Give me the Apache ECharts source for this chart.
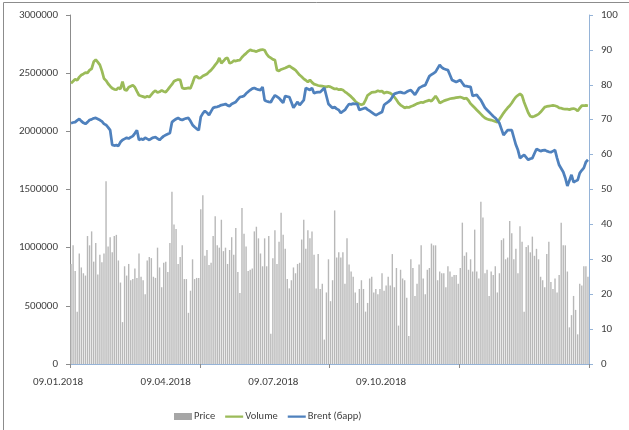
<!DOCTYPE html>
<html>
<head>
<meta charset="utf-8">
<script src="https://cdn.jsdelivr.net/npm/echarts@6/dist/echarts.min.js"></script>
<style>
  html, body { margin: 0; padding: 0; background: #fff; }
  #chart { width: 629px; height: 430px; }
</style>
</head>
<body>
<div id="chart"></div>
<script>
// Axis tick labels under the date axis
var tickLabels = ['09.01.2018', '09.04.2018', '09.07.2018', '09.10.2018'];

// Daily bars (left axis)
var price = [
  860000,1020000,800000,450000,950000,830000,780000,760000,1100000,1020000,
  1140000,880000,1040000,770000,940000,875000,950000,1570000,1010000,1090000,
  960000,1100000,1110000,890000,700000,360000,840000,760000,860000,720000,
  730000,820000,740000,950000,750000,720000,600000,890000,920000,910000,
  750000,740000,1000000,830000,660000,870000,880000,790000,1040000,1480000,
  1200000,1160000,860000,920000,1020000,730000,730000,440000,630000,900000,
  730000,740000,740000,
  1330000,1450000,930000,980000,850000,870000,1100000,1270000,1020000,1000000,
  1240000,970000,1000000,860000,980000,1090000,940000,1170000,790000,610000,
  1340000,1120000,1010000,800000,810000,820000,1140000,1180000,1080000,950000,
  840000,1080000,840000,1100000,260000,910000,1150000,860000,1050000,1300000,
  1110000,990000,730000,650000,720000,830000,780000,860000,870000,1070000,
  1240000,990000,1150000,1080000,1140000,940000,650000,
  945000,645000,690000,210000,615000,900000,540000,720000,1320000,915000,
  960000,915000,960000,690000,1080000,855000,795000,750000,615000,525000,
  645000,720000,645000,450000,525000,735000,750000,615000,645000,600000,
  645000,780000,630000,675000,750000,675000,945000,660000,825000,330000,
  810000,735000,720000,570000,240000,900000,825000,585000,690000,855000,
  1020000,735000,600000,810000,825000,1035000,1020000,1020000,720000,795000,
  780000,780000,660000,840000,795000,750000,765000,765000,690000,
  825000,1215000,930000,960000,810000,900000,795000,1155000,795000,735000,
  1395000,1260000,780000,810000,585000,795000,765000,840000,615000,780000,
  1065000,1080000,900000,915000,1230000,1125000,900000,990000,780000,1185000,
  1050000,450000,1005000,1020000,960000,1095000,930000,990000,900000,750000,
  720000,660000,945000,1050000,705000,645000,735000,615000,765000,1215000,
  1020000,1020000,795000,315000,420000,585000,465000,255000,690000,675000,
  840000,840000,750000
];

// Green line (right axis)
var volume = [
  80.4,81.0,81.6,81.3,82.2,82.8,83.1,83.5,83.4,84.2,
  84.6,86.6,87.2,86.5,85.7,84.0,81.8,81.2,80.3,79.6,
  79.0,78.7,78.6,79.2,78.8,80.9,78.6,78.4,79.3,79.6,
  79.9,79.3,78.1,77.0,76.8,76.6,76.4,76.7,76.5,77.2,
  77.9,78.3,77.8,78.0,78.4,78.1,77.9,78.6,79.4,80.1,
  81.0,81.3,81.5,81.4,79.1,78.9,79.0,79.1,79.0,80.5,
  82.2,82.4,81.9,82.0,82.5,82.8,83.1,83.7,84.2,84.9,
  85.7,86.4,87.7,86.2,86.8,87.5,87.7,86.2,86.4,86.9,
  86.8,87.0,87.1,87.9,88.5,89.0,89.6,90.0,89.8,89.7,
  89.5,89.8,90.0,90.1,89.9,88.8,88.1,87.7,87.3,87.1,
  84.2,84.0,84.4,84.6,84.8,85.1,85.4,85.0,84.6,84.2,
  83.5,82.8,82.3,81.7,81.3,80.8,81.4,80.7,80.2,80.0,
  79.8,79.7,79.6,79.5,79.4,79.6,79.4,79.1,78.8,78.9,
  78.6,78.7,78.5,78.0,77.6,77.1,76.6,76.0,75.3,74.8,
  74.5,74.3,74.5,75.6,77.0,77.4,77.8,77.9,78.0,78.3,
  78.1,78.2,77.6,77.9,77.8,77.6,77.2,76.5,75.7,74.8,
  74.2,73.8,73.4,73.6,73.5,73.8,74.0,74.3,74.6,74.8,
  75.0,74.9,75.2,75.4,75.6,75.3,76.0,76.8,75.9,74.8,
  75.1,75.4,75.6,75.8,76.0,76.1,76.2,76.3,76.4,76.5,
  76.3,76.0,76.2,75.5,74.6,74.0,73.4,72.8,72.2,71.6,
  71.0,70.5,70.2,70.0,69.9,69.7,69.5,69.3,70.1,71.0,
  71.9,72.7,73.4,74.0,74.8,75.7,76.5,77.0,77.4,76.9,
  75.0,73.5,72.0,71.0,70.8,71.0,71.3,71.6,72.2,72.9,
  73.6,73.8,73.9,74.0,74.1,74.0,73.8,73.4,73.3,73.1,
  73.0,73.0,72.9,73.1,73.2,73.0,72.5,73.3,74.0,74.0,
  74.1,74.0
];

// Blue line (right axis)
var brent = [
  69.0,69.2,69.3,69.8,70.2,69.6,69.1,68.8,69.3,69.9,
  70.1,70.4,70.5,70.2,69.9,69.5,68.8,68.5,67.8,67.0,
  62.8,62.6,62.7,62.5,63.6,64.2,64.5,64.8,64.6,65.0,
  65.3,66.1,67.0,64.2,64.5,64.3,64.8,64.5,64.2,64.6,
  64.9,65.0,64.6,64.2,64.8,65.3,65.6,65.9,66.2,69.3,
  69.8,70.2,70.5,70.1,69.9,70.2,70.4,70.5,69.6,68.5,
  67.9,67.4,67.0,70.8,71.8,72.5,72.0,71.3,72.4,73.4,
  73.6,73.7,73.9,74.2,74.3,74.5,74.1,73.9,74.5,74.8,
  75.1,75.8,76.5,76.6,76.8,77.5,78.0,78.5,78.9,79.1,
  78.8,78.6,78.5,79.4,75.6,75.3,75.1,75.0,76.1,77.0,
  76.6,76.2,75.5,74.8,76.8,76.6,76.5,75.0,73.4,74.3,
  75.1,74.2,74.9,75.6,79.1,78.8,78.5,79.1,77.6,77.8,
  77.9,77.9,78.5,79.1,76.8,74.5,73.9,73.4,73.6,73.1,
  72.8,71.9,72.4,72.8,73.7,74.5,74.4,74.6,74.5,74.5,
  72.8,73.0,73.2,73.4,72.9,72.5,72.1,71.7,71.3,71.6,
  71.9,72.2,74.2,74.7,75.1,75.6,76.5,77.4,77.6,77.8,
  77.9,77.7,77.6,78.0,78.3,78.5,77.8,77.1,78.1,79.1,
  79.4,79.7,79.9,81.2,82.5,82.9,83.3,83.7,84.7,85.7,
  85.0,84.6,84.4,84.2,82.8,81.4,81.1,80.8,81.1,81.4,
  80.5,79.7,79.6,79.5,79.4,76.8,77.0,77.1,76.3,75.6,
  74.5,73.4,72.8,72.2,71.6,71.0,70.5,69.8,69.0,67.3,
  65.6,66.3,67.0,67.0,67.0,64.9,62.8,61.3,59.0,59.5,
  59.9,59.2,58.5,58.8,59.0,60.3,61.6,61.3,61.0,61.2,
  61.3,61.0,60.8,60.7,61.0,61.3,59.0,57.0,56.0,55.0,
  53.3,51.0,52.6,54.2,52.1,52.4,52.7,54.7,55.5,56.2,
  57.9,58.5
];

// Trading-day categories (weekdays from 09.01.2018)
var days = [];
(function () {
  var d = new Date(2018, 0, 9);
  while (days.length < price.length) {
    var wd = d.getDay();
    if (wd !== 0 && wd !== 6) {
      var dd = ('0' + d.getDate()).slice(-2);
      var mm = ('0' + (d.getMonth() + 1)).slice(-2);
      days.push(dd + '.' + mm + '.' + d.getFullYear());
    }
    d.setDate(d.getDate() + 1);
  }
})();

var FONT = "Carlito, 'Liberation Sans Narrow', 'Liberation Sans', Arial, sans-serif";
var TXT = '#404040';
// Thin horizontal stroke used as the legend key for the lines
var LINE_KEY = 'path://M0,0h0.01v0.01h-0.01z M17.99,6.99h0.01v0.01h-0.01z M0,2.4h18v2.4h-18z';

var chart = echarts.init(document.getElementById('chart'), null, { renderer: 'canvas' });

chart.setOption({
  animation: false,
  backgroundColor: '#ffffff',
  textStyle: { fontFamily: FONT },
  graphic: [{
    type: 'rect',
    shape: { x: 3.5, y: 2.5, width: 700, height: 500 },
    style: { fill: 'none', stroke: '#8c8c8c', lineWidth: 1 },
    silent: true, z: -10
  }],
  grid: [
    { left: 70, right: 40, top: 15, bottom: 66 },
    { left: 58, width: 323, top: 363, height: 1 }
  ],
  legend: {
    left: 169, top: 406,
    itemWidth: 18, itemHeight: 7, itemGap: 10,
    textStyle: { color: TXT, fontSize: 10.5, fontFamily: FONT, padding: [0, 0, 0, -3] },
    data: [
      { name: 'Price', icon: 'rect', itemStyle: { color: '#a6a6a6' } },
      { name: 'Volume', icon: LINE_KEY, itemStyle: { color: '#9bbb59' } },
      { name: 'Brent (барр)', icon: LINE_KEY, itemStyle: { color: '#4f81bd' } }
    ]
  },
  xAxis: [
    {
      type: 'category', gridIndex: 0, data: days, boundaryGap: true,
      axisLine: { lineStyle: { color: '#8c8c8c', width: 1 } },
      axisTick: { show: true, length: 4, interval: function (i) { return i % 63 === 0; }, lineStyle: { color: '#8c8c8c' } },
      axisLabel: { show: false }
    },
    {
      type: 'category', gridIndex: 0, data: days, position: 'top', boundaryGap: true,
      axisLine: { lineStyle: { color: '#95b3d7', width: 1 } },
      axisTick: { show: false }, axisLabel: { show: false }
    },
    {
      type: 'value', gridIndex: 1, min: 0, max: tickLabels.length - 1, interval: 1,
      axisLine: { show: false }, axisTick: { show: false }, splitLine: { show: false },
      axisLabel: {
        color: TXT, fontSize: 11, fontFamily: FONT, margin: 13,
        showMinLabel: true, showMaxLabel: true,
        formatter: function (v) { return tickLabels[v] || ''; }
      }
    }
  ],
  yAxis: [
    {
      type: 'value', gridIndex: 0, min: 0, max: 3000000, interval: 500000,
      axisLine: { show: true, lineStyle: { color: '#8c8c8c' } },
      axisTick: { show: true, length: 4, lineStyle: { color: '#8c8c8c' } },
      splitLine: { show: false },
      axisLabel: { color: TXT, fontSize: 11, fontFamily: FONT, margin: 12,
        formatter: function (v) { return String(v); } }
    },
    {
      type: 'value', gridIndex: 0, min: 0, max: 100, interval: 10, position: 'right',
      axisLine: { show: true, lineStyle: { color: '#95b3d7' } },
      axisTick: { show: true, length: 4, lineStyle: { color: '#95b3d7' } },
      splitLine: { show: false },
      axisLabel: { color: TXT, fontSize: 11, fontFamily: FONT, margin: 12 }
    },
    { type: 'value', gridIndex: 1, show: false, min: 0, max: 1 }
  ],
  series: [
    {
      name: 'Price', type: 'bar', xAxisIndex: 0, yAxisIndex: 0,
      data: price, barWidth: 1.4,
      itemStyle: { color: '#b8b8b8' }
    },
    {
      name: 'Volume', type: 'line', xAxisIndex: 0, yAxisIndex: 1,
      data: volume, symbol: 'none',
      lineStyle: { color: '#9bbb59', width: 2.75 }, itemStyle: { color: '#9bbb59' }
    },
    {
      name: 'Brent (барр)', type: 'line', xAxisIndex: 0, yAxisIndex: 1,
      data: brent, symbol: 'none',
      lineStyle: { color: '#4f81bd', width: 2.75 }, itemStyle: { color: '#4f81bd' }
    }
  ]
});
</script>
</body>
</html>
